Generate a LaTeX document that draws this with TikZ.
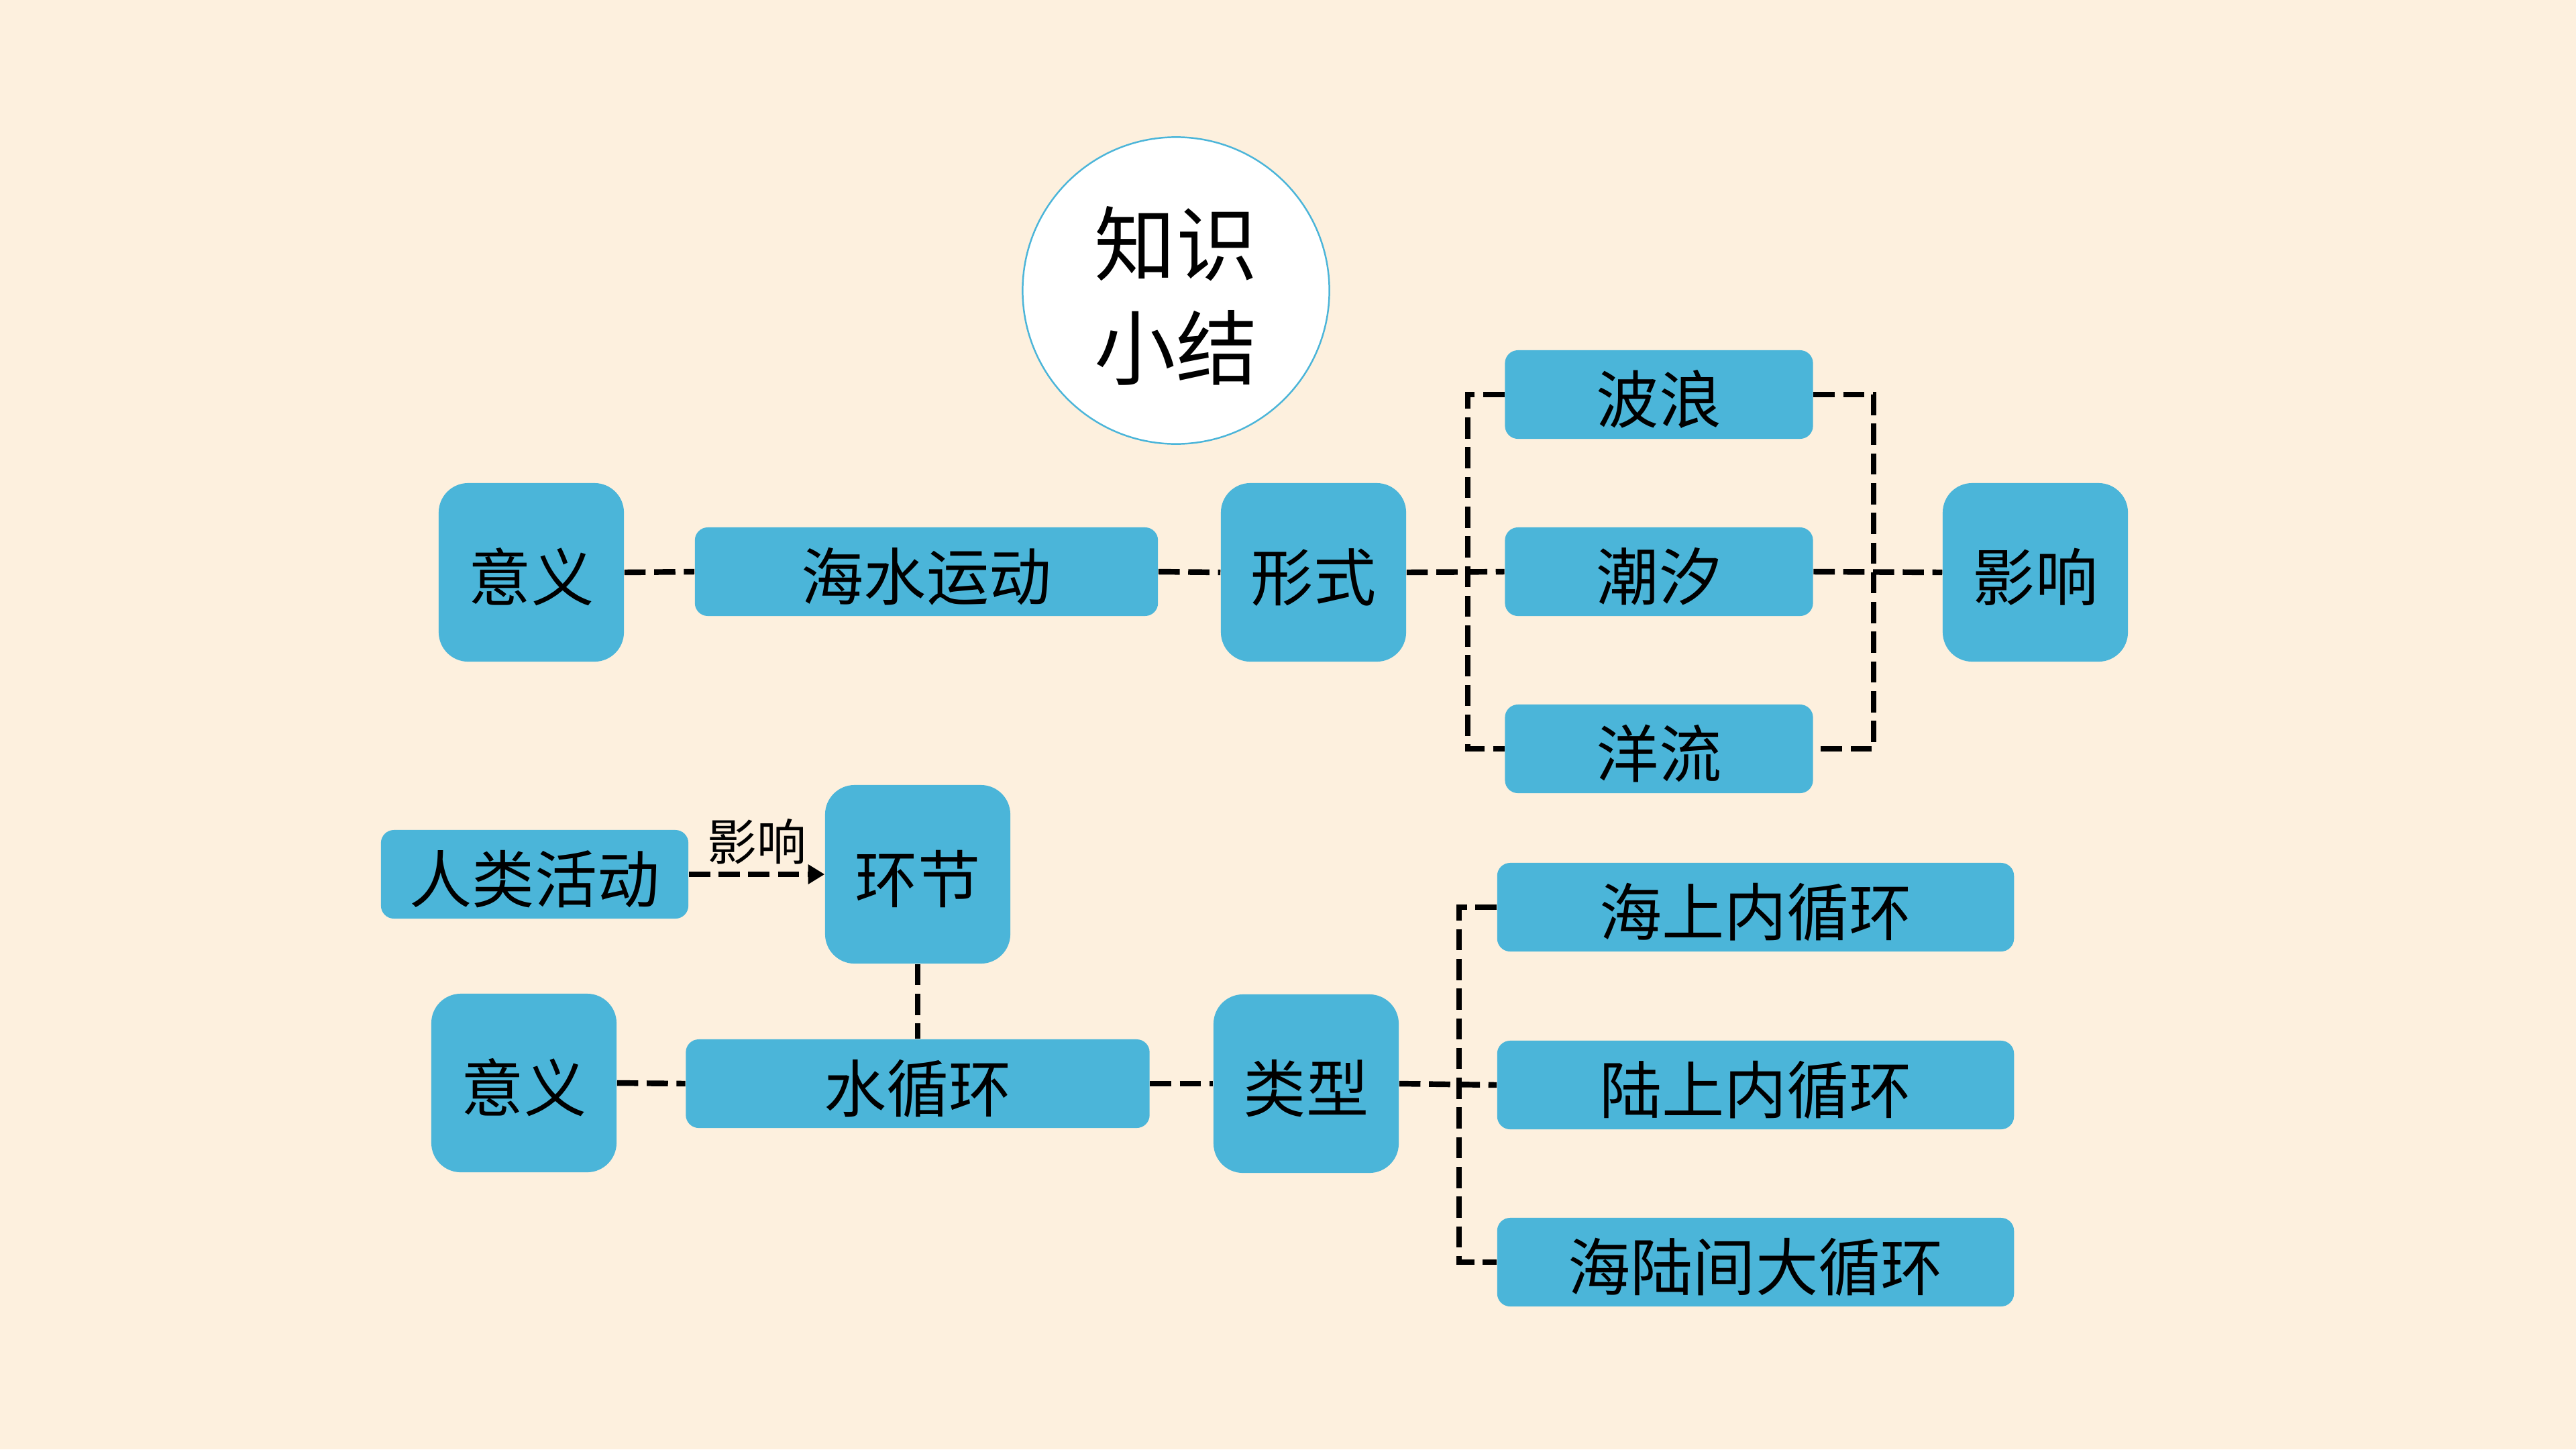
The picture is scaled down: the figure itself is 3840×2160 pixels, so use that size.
\documentclass[tikz,border=0pt]{standalone}
\usepackage{fontspec}
\newfontfamily\cjk{Noto Sans CJK SC}
\usetikzlibrary{arrows.meta}
\definecolor{bgcol}{RGB}{253,240,222}
\definecolor{boxcol}{RGB}{75,181,217}
\tikzset{
  box/.style={fill=boxcol, inner sep=0pt, font=\cjk\fontsize{26.5pt}{30pt}\selectfont, text=black,
              text height=24pt, text depth=0pt},
  bigbox/.style={box, minimum width=2.76cm, minimum height=2.66cm, rounded corners=12.5pt},
  widebox/.style={box, minimum height=1.32cm, rounded corners=5.5pt},
  conn/.style={draw=black, line width=2.4pt, dash pattern=on 9pt off 3.6pt},
}
\begin{document}
\begin{tikzpicture}[x=0.01cm, y=-0.01cm]
\fill[bgcol] (0,0) rectangle (3840,2160);
\useasboundingbox (0,0) rectangle (3840,2160);

% title
\node[circle, draw=boxcol, line width=0.7pt, fill=white, minimum size=4.57cm, inner sep=0pt,
      align=center, font=\cjk\fontsize{34.5pt}{44pt}\selectfont] (title) at (1753,433) {\\[-0.3em]知识\\小结};

% row 1
\node[bigbox] (yy1) at (792,853) {意义};
\node[widebox, minimum width=6.9cm] (hs) at (1381,852) {海水运动};
\node[bigbox] (xs) at (1958,853) {形式};
\node[widebox, minimum width=4.59cm] (bl) at (2473,588) {波浪};
\node[widebox, minimum width=4.59cm] (cx) at (2473,852) {潮汐};
\node[widebox, minimum width=4.59cm] (yl) at (2473,1116) {洋流};
\node[bigbox] (yx) at (3034,853) {影响};

\coordinate (lb) at (2188,853);
\coordinate (rb) at (2793,853);

\draw[conn] (yy1.east) -- (hs.west);
\draw[conn] (hs.east) -- (xs.west);
\draw[conn] (xs.east) -- (cx.west);
\draw[conn] (bl.west) -| (lb) |- (yl.west);
\draw[conn] (bl.east) -| (rb) |- (yl.east);
\draw[conn] (cx.east) -- (yx.west);

% row 2
\node[widebox, minimum width=4.58cm] (rl) at (797,1303) {人类活动};
\node[bigbox] (hj) at (1368,1303) {环节};
\node[bigbox] (yy2) at (781,1614) {意义};
\node[widebox, minimum width=6.91cm] (sx) at (1368,1615) {水循环};
\node[bigbox] (lx) at (1947,1615) {类型};
\node[widebox, minimum width=7.7cm] (t1) at (2617,1352) {海上内循环};
\node[widebox, minimum width=7.7cm] (t2) at (2617,1617) {陆上内循环};
\node[widebox, minimum width=7.7cm] (t3) at (2617,1881) {海陆间大循环};

\coordinate (bb) at (2175,1617);

\draw[conn, -{Triangle[length=7pt, width=8pt]}] (rl.east) -- (hj.west)
  node[midway, above=2pt, font=\cjk\fontsize{21pt}{24pt}\selectfont, inner sep=1pt] (lab) {影响};
\draw[conn] (hj.south) -- (sx.north);
\draw[conn] (yy2.east) -- (sx.west);
\draw[conn] (sx.east) -- (lx.west);
\draw[conn] (lx.east) -- (t2.west);
\draw[conn] (t1.west) -| (bb) |- (t3.west);
\end{tikzpicture}
\end{document}
